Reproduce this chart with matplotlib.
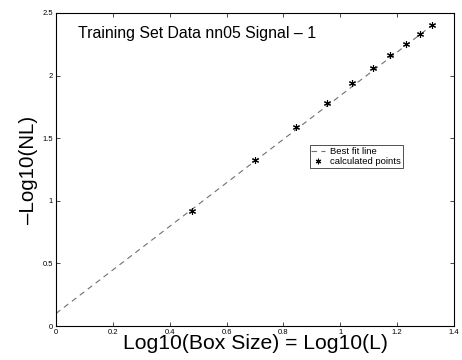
import numpy as np
import matplotlib.pyplot as plt

plt.rcParams['font.family'] = ['Liberation Sans', 'DejaVu Sans']

# log10 of box size and -log10 of NL
box_log = [0.477, 0.699, 0.845, 0.954, 1.041, 1.114, 1.176, 1.230, 1.279, 1.322]
nl_log = [0.918, 1.328, 1.592, 1.784, 1.938, 2.058, 2.165, 2.255, 2.332, 2.401]

# best fit line end points
fit_x = [0.0, 1.322]
fit_y = [0.10, 2.40]

fig = plt.figure(figsize=(4.62, 3.6), dpi=100)
ax = fig.add_axes([0.1212, 0.0944, 0.8615, 0.8695])

ax.plot(fit_x, fit_y, color="#707070", linestyle=(0, (5, 4)), linewidth=0.8, label="Best fit line")
ax.plot(box_log, nl_log, linestyle="none", marker=(6, 2, 0), color="black", markersize=5,
        markeredgewidth=0.8, label="calculated points")

ax.set_xlim(0, 1.4)
ax.set_ylim(0, 2.5)
ax.set_xticks(np.arange(0, 1.41, 0.2))
ax.set_xticklabels(["0", "0.2", "0.4", "0.6", "0.8", "1", "1.2", "1.4"])
ax.set_yticks([0, 0.5, 1, 1.5, 2, 2.5])
ax.set_yticklabels(["0", "0.5", "1", "1.5", "2", "2.5"])
ax.tick_params(direction="in", top=True, right=True, labelsize=5.5, length=3, width=0.5, pad=2)
for s in ax.spines.values():
    s.set_linewidth(0.8)

ax.text(0.055, 0.935, "Training Set Data nn05 Signal \u2013 1", transform=ax.transAxes, fontsize=11.4, va="center")
ax.set_xlabel("Log10(Box Size) = Log10(L)", fontsize=15.2, labelpad=-1)
ax.set_ylabel("\u2013Log10(NL)", fontsize=14.8, labelpad=3)

leg = ax.legend(loc="upper left", bbox_to_anchor=(0.637, 0.578), fontsize=6.8, frameon=True, fancybox=False,
                edgecolor="black", handlelength=1.4, borderpad=0.2, labelspacing=0.1, handletextpad=0.6,
                borderaxespad=0, markerscale=0.8)
leg.get_frame().set_linewidth(0.6)

plt.savefig("out.png", dpi=100)
